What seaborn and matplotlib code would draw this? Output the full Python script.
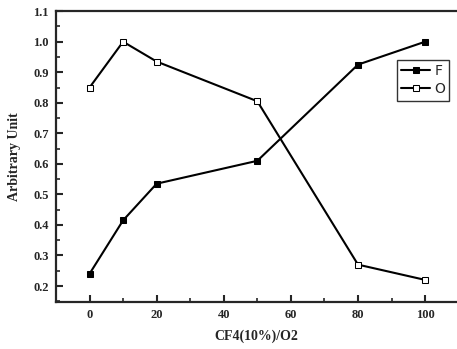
import matplotlib
matplotlib.use('Agg')
import matplotlib.pyplot as plt
import seaborn as sns
from matplotlib.ticker import MultipleLocator

x = [0, 10, 20, 50, 80, 100]
f_vals = [0.24, 0.415, 0.535, 0.61, 0.925, 1.0]
o_vals = [0.85, 1.0, 0.935, 0.805, 0.27, 0.22]

sns.set_style('ticks')
plt.rcParams['font.family'] = ['Liberation Serif', 'DejaVu Serif']
plt.rcParams['font.weight'] = 'bold'

fig = plt.figure(figsize=(4.57, 3.49), dpi=100)
ax = fig.add_axes([0.1225, 0.135, 0.8775, 0.833])

sns.lineplot(x=x, y=f_vals, ax=ax, color='black', marker='s', markersize=4.5,
             markerfacecolor='black', markeredgecolor='black', linewidth=1.5, label='F')
sns.lineplot(x=x, y=o_vals, ax=ax, color='black', marker='s', markersize=4.5,
             markerfacecolor='white', markeredgecolor='black', linewidth=1.5, label='O')

ax.set_xlim(-10, 109.5)
ax.set_ylim(0.148, 1.1)
ax.xaxis.set_major_locator(MultipleLocator(20))
ax.xaxis.set_minor_locator(MultipleLocator(10))
ax.yaxis.set_minor_locator(MultipleLocator(0.05))
ax.set_yticks([0.2, 0.3, 0.4, 0.5, 0.6, 0.7, 0.8, 0.9, 1.0, 1.1])
ax.set_yticklabels(['0.2', '0.3', '0.4', '0.5', '0.6', '0.7', '0.8', '0.9', '1.0', '1.1'])
ax.tick_params(which='major', direction='in', length=5, width=1.5, labelsize=9, pad=5)
ax.tick_params(which='minor', direction='in', length=3, width=1.2)
ax.tick_params(top=False, right=False, which='both')
for s in ['left', 'bottom', 'top']:
    ax.spines[s].set_linewidth(1.6)
ax.spines['right'].set_visible(False)

ax.set_xlabel('CF4(10%)/O2', fontsize=10, fontweight='bold', labelpad=6)
ax.set_ylabel('Arbitrary Unit', fontsize=10, fontweight='bold', labelpad=9)

leg = ax.legend(loc='upper left', bbox_to_anchor=(0.85, 0.832), frameon=True,
                fancybox=False, edgecolor='black', fontsize=10, handlelength=2.1,
                borderpad=0.3, labelspacing=0.3, handletextpad=0.3, borderaxespad=0)
leg.get_frame().set_linewidth(1.0)
for t in leg.get_texts():
    t.set_fontfamily(['DejaVu Sans'])
    t.set_fontweight('normal')

fig.savefig('out.png', dpi=100)
